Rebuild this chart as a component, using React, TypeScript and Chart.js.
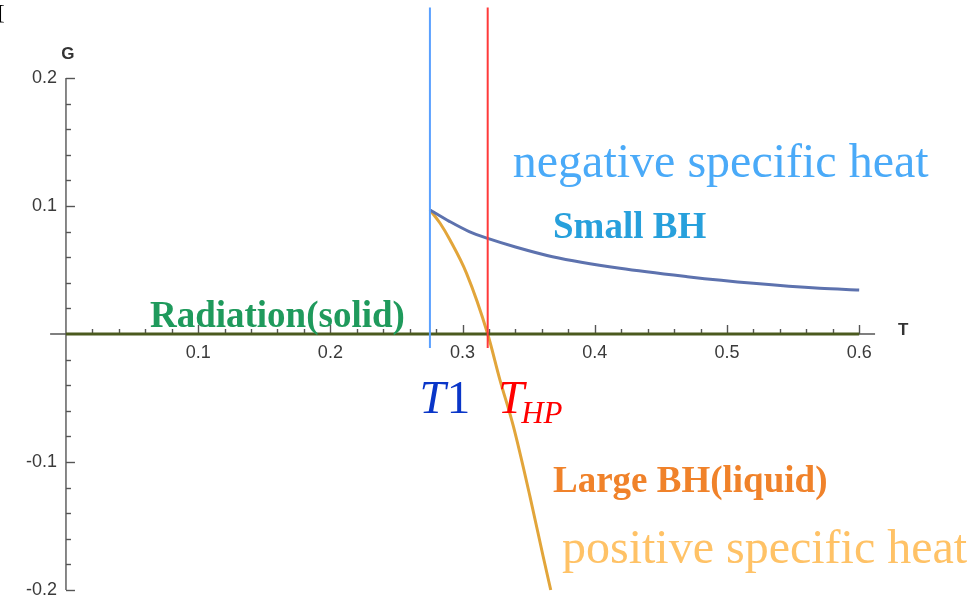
import React, { useEffect, useRef } from "react";
import { Chart, registerables } from "chart.js";

Chart.register(...registerables);

// ---- data ----
const smallBH_T = [0.2753, 0.29, 0.305, 0.319, 0.34, 0.368, 0.419, 0.47, 0.52, 0.57, 0.6];
const smallBH_G = [0.0969, 0.088, 0.08, 0.0747, 0.068, 0.0604, 0.0513, 0.0448, 0.0396, 0.0357, 0.0344];
const largeBH_T = [0.2753, 0.283, 0.2905, 0.303, 0.319, 0.3283, 0.3384, 0.351, 0.361, 0.3667];
const largeBH_G = [0.0969, 0.0865, 0.0734, 0.0474, 0, -0.036, -0.072, -0.127, -0.174, -0.2];
const radiation_T = [0, 0.6];
const radiation_G = [0, 0];
const T1 = 0.2753;
const THP = 0.319;
const vLineG = [-0.011, 0.255];

const xMajorTicks = [0.1, 0.2, 0.3, 0.4, 0.5, 0.6];
const xTickLabels = ["0.1", "0.2", "0.3", "0.4", "0.5", "0.6"];
const yMajorTicks = [-0.2, -0.1, 0.1, 0.2];
const yTickLabels = ["-0.2", "-0.1", "0.1", "0.2"];
const minorStep = 0.02;

const toPts = (xs: number[], ys: number[]) => xs.map((x, i) => ({ x, y: ys[i] }));

const axesPlugin = {
  id: "mmaAxes",
  beforeDatasetsDraw(chart: any) {
    const ctx = chart.ctx;
    const xs = chart.scales.x;
    const ys = chart.scales.y;
    const x0 = xs.getPixelForValue(0);
    const y0 = ys.getPixelForValue(0);
    ctx.save();
    ctx.strokeStyle = "#555";
    ctx.lineWidth = 1.4;
    // x axis
    ctx.beginPath();
    ctx.moveTo(xs.getPixelForValue(-0.012), y0);
    ctx.lineTo(xs.getPixelForValue(0.612), y0);
    ctx.stroke();
    // y axis
    ctx.beginPath();
    ctx.moveTo(x0, ys.getPixelForValue(0.2));
    ctx.lineTo(x0, ys.getPixelForValue(-0.2));
    ctx.stroke();
    // x ticks
    for (let i = 1; i <= 30; i++) {
      const v = i * minorStep;
      const major = i % 5 === 0;
      const px = Math.round(xs.getPixelForValue(v)) + 0.5;
      ctx.beginPath();
      ctx.moveTo(px, y0);
      ctx.lineTo(px, y0 - (major ? 9 : 5));
      ctx.stroke();
    }
    // y ticks
    for (let i = -10; i <= 10; i++) {
      if (i === 0) continue;
      const v = i * minorStep;
      const major = i % 5 === 0;
      const py = Math.round(ys.getPixelForValue(v)) + 0.5;
      ctx.beginPath();
      ctx.moveTo(x0, py);
      ctx.lineTo(x0 + (major ? 9 : 5), py);
      ctx.stroke();
    }
    // tick labels
    ctx.fillStyle = "#3a3a3a";
    ctx.font = "18px 'Liberation Sans', Arial, sans-serif";
    ctx.textAlign = "center";
    ctx.textBaseline = "middle";
    xMajorTicks.forEach((v, i) => {
      ctx.fillText(xTickLabels[i], xs.getPixelForValue(v), y0 + 19);
    });
    ctx.textAlign = "right";
    yMajorTicks.forEach((v, i) => {
      ctx.fillText(yTickLabels[i], x0 - 9, ys.getPixelForValue(v));
    });
    // axis labels
    ctx.font = "bold 17px 'Liberation Sans', Arial, sans-serif";
    ctx.fillStyle = "#333";
    ctx.textAlign = "center";
    ctx.fillText("G", x0 + 2, ys.getPixelForValue(0.2) - 24);
    ctx.fillText("T", xs.getPixelForValue(0.6) + 44, y0 - 4);
    ctx.restore();
  },
};

type Lbl = { text: string; t: number; g: number; font: string; color: string };
const labels: Lbl[] = [
  { text: "negative specific heat", t: 0.338, g: 0.1227, font: "48px 'Liberation Serif', 'Times New Roman', serif", color: "#4aaaf8" },
  { text: "Small BH", t: 0.3684, g: 0.075, font: "bold 37px 'Liberation Serif', 'Times New Roman', serif", color: "#27a0dc" },
  { text: "Radiation(solid)", t: 0.0635, g: 0.0055, font: "bold 37px 'Liberation Serif', 'Times New Roman', serif", color: "#1f9a5c" },
  { text: "Large BH(liquid)", t: 0.3684, g: -0.1234, font: "bold 37px 'Liberation Serif', 'Times New Roman', serif", color: "#f0822a" },
  { text: "positive specific heat", t: 0.3752, g: -0.179, font: "48px 'Liberation Serif', 'Times New Roman', serif", color: "#ffc266" },
];

const textPlugin = {
  id: "annotText",
  afterDatasetsDraw(chart: any) {
    const ctx = chart.ctx;
    const xs = chart.scales.x;
    const ys = chart.scales.y;
    ctx.save();
    ctx.textAlign = "left";
    ctx.textBaseline = "alphabetic";
    labels.forEach((l) => {
      ctx.font = l.font;
      ctx.fillStyle = l.color;
      ctx.fillText(l.text, xs.getPixelForValue(l.t), ys.getPixelForValue(l.g));
    });
    // T1
    const by = ys.getPixelForValue(-0.0617);
    let x = xs.getPixelForValue(0.2675);
    ctx.fillStyle = "#0a36c8";
    ctx.font = "italic 47px 'Liberation Serif', 'Times New Roman', serif";
    ctx.fillText("T", x, by);
    x += ctx.measureText("T").width + 1;
    ctx.font = "47px 'Liberation Serif', 'Times New Roman', serif";
    ctx.fillText("1", x, by);
    // T_HP
    x = xs.getPixelForValue(0.3268);
    ctx.fillStyle = "#ff0000";
    ctx.font = "italic 47px 'Liberation Serif', 'Times New Roman', serif";
    ctx.fillText("T", x, by);
    x += ctx.measureText("T").width - 3;
    ctx.font = "italic 31px 'Liberation Serif', 'Times New Roman', serif";
    ctx.fillText("HP", x, ys.getPixelForValue(-0.0695));
    // stray bracket top-left
    ctx.fillStyle = "#000";
    ctx.font = "20px 'Liberation Serif', serif";
    ctx.fillText("[", -2, 19);
    ctx.restore();
  },
};

export default function App() {
  const ref = useRef<HTMLCanvasElement>(null);
  useEffect(() => {
    if (!ref.current) return;
    const chart = new Chart(ref.current, {
      type: "scatter",
      data: {
        datasets: [
          {
            label: "T1",
            data: toPts([T1, T1], vLineG),
            showLine: true,
            borderColor: "#5aa0ff",
            borderWidth: 2,
            pointRadius: 0,
          },
          {
            label: "THP",
            data: toPts([THP, THP], vLineG),
            showLine: true,
            borderColor: "#ff3a3a",
            borderWidth: 2,
            pointRadius: 0,
          },
          {
            label: "Radiation",
            data: toPts(radiation_T, radiation_G),
            showLine: true,
            borderColor: "#4b5a1e",
            borderWidth: 3,
            pointRadius: 0,
          },
          {
            label: "Small BH",
            data: toPts(smallBH_T, smallBH_G),
            showLine: true,
            borderColor: "#5d72ae",
            borderWidth: 3,
            pointRadius: 0,
            cubicInterpolationMode: "monotone",
          },
          {
            label: "Large BH",
            data: toPts(largeBH_T, largeBH_G),
            showLine: true,
            borderColor: "#e2a53a",
            borderWidth: 3,
            pointRadius: 0,
            cubicInterpolationMode: "monotone",
          },
        ],
      },
      options: {
        animation: false,
        responsive: false,
        devicePixelRatio: 1,
        layout: { padding: 0 },
        plugins: { legend: { display: false }, tooltip: { enabled: false } },
        scales: {
          x: { type: "linear", min: -0.0499, max: 0.6876, display: false },
          y: { type: "linear", min: -0.2078, max: 0.2609, display: false },
        },
      },
      plugins: [axesPlugin, textPlugin],
    } as any);
    return () => chart.destroy();
  }, []);
  return (
    <div style={{ position: "fixed", left: 0, top: 0, width: 975, height: 600, background: "#fff" }}>
      <canvas ref={ref} width={975} height={600} style={{ width: 975, height: 600 }} />
    </div>
  );
}
